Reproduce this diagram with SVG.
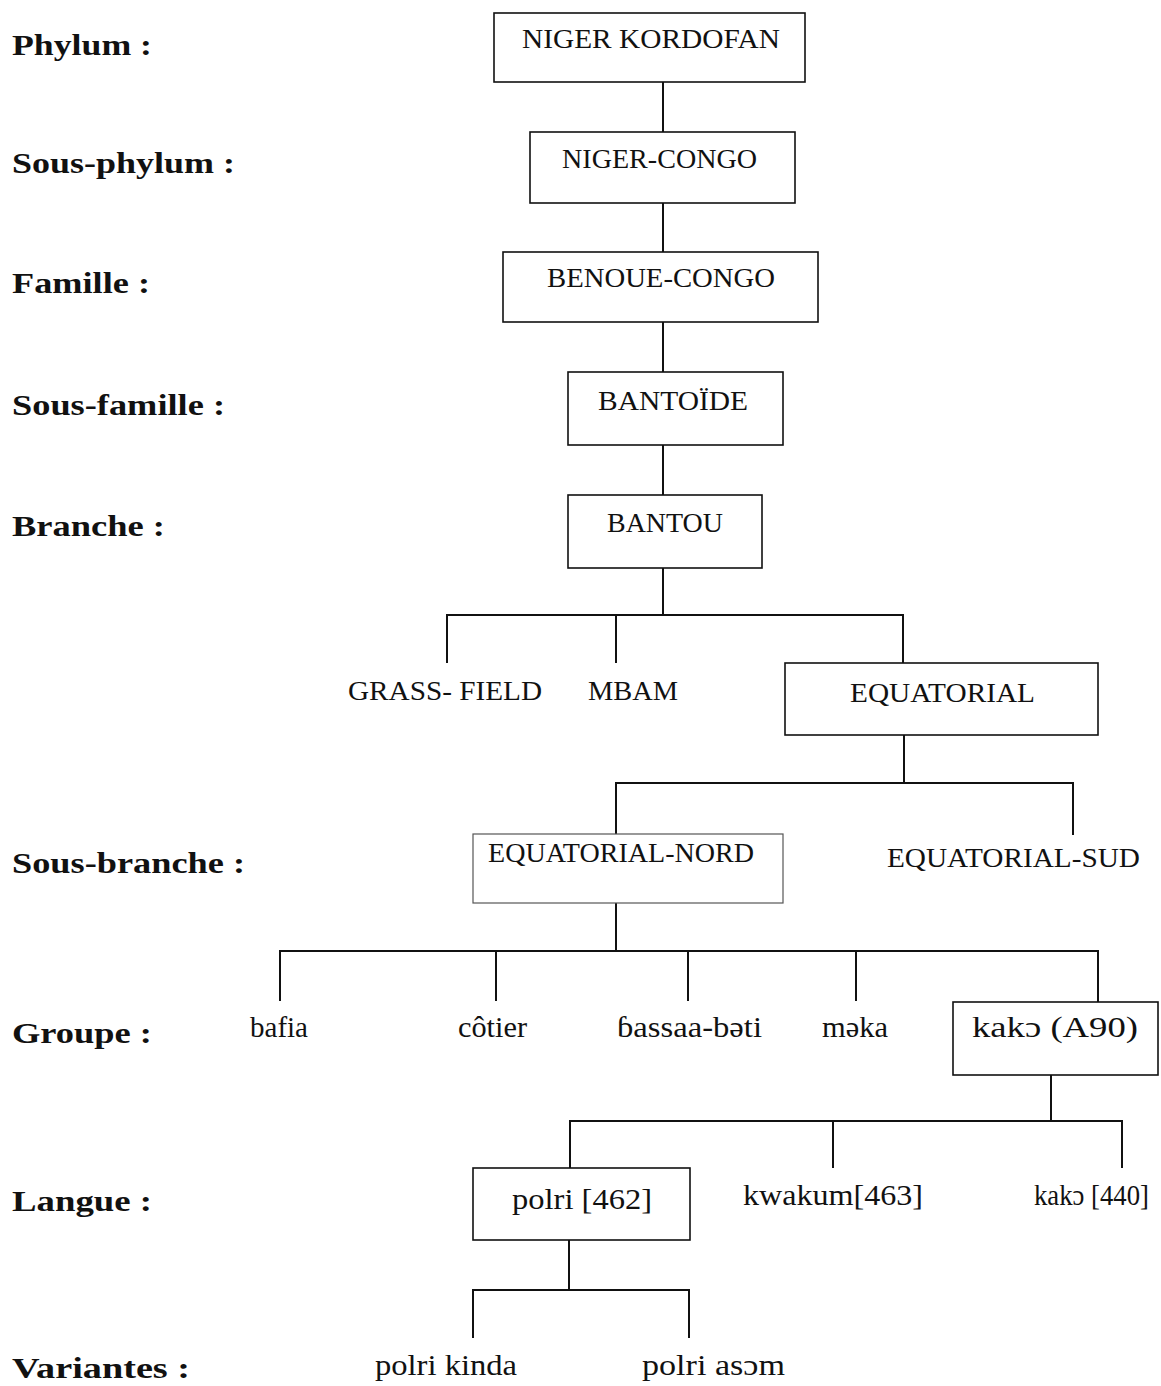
<svg xmlns="http://www.w3.org/2000/svg" width="1161" height="1386" viewBox="0 0 1161 1386">
<style>
.box{fill:#fff;stroke:#111;stroke-width:1.6}
.lbl{font-family:"Liberation Serif","Times New Roman","DejaVu Serif",serif;font-weight:bold;font-size:30px;fill:#111}
.t{font-family:"Liberation Serif","Times New Roman","DejaVu Serif",serif;font-size:27px;fill:#111}
.s{font-family:"Liberation Serif","Times New Roman","DejaVu Serif",serif;font-size:30px;fill:#111}
#connectors line{stroke:#111;stroke-width:2}
</style>
<rect width="1161" height="1386" fill="#fff"/>
<g id="levels">
<text class="lbl" x="12" y="55" textLength="140" lengthAdjust="spacingAndGlyphs">Phylum :</text>
<text class="lbl" x="12" y="173" textLength="223" lengthAdjust="spacingAndGlyphs">Sous-phylum :</text>
<text class="lbl" x="12" y="293" textLength="138" lengthAdjust="spacingAndGlyphs">Famille :</text>
<text class="lbl" x="12" y="415" textLength="213" lengthAdjust="spacingAndGlyphs">Sous-famille :</text>
<text class="lbl" x="12" y="536" textLength="153" lengthAdjust="spacingAndGlyphs">Branche :</text>
<text class="lbl" x="12" y="873" textLength="233" lengthAdjust="spacingAndGlyphs">Sous-branche :</text>
<text class="lbl" x="12" y="1043" textLength="140" lengthAdjust="spacingAndGlyphs">Groupe :</text>
<text class="lbl" x="12" y="1211" textLength="140" lengthAdjust="spacingAndGlyphs">Langue :</text>
<text class="lbl" x="12" y="1378" textLength="178" lengthAdjust="spacingAndGlyphs">Variantes :</text>
</g>
<g id="connectors">
<line x1="663" y1="82" x2="663" y2="132"/>
<line x1="663" y1="203" x2="663" y2="252"/>
<line x1="663" y1="322" x2="663" y2="372"/>
<line x1="663" y1="445" x2="663" y2="495"/>
<line x1="663" y1="568" x2="663" y2="615"/>
<line x1="446" y1="615" x2="904" y2="615"/>
<line x1="447" y1="615" x2="447" y2="663"/>
<line x1="616" y1="615" x2="616" y2="663"/>
<line x1="903" y1="615" x2="903" y2="663"/>
<line x1="904" y1="735" x2="904" y2="783"/>
<line x1="615" y1="783" x2="1074" y2="783"/>
<line x1="616" y1="783" x2="616" y2="834"/>
<line x1="1073" y1="783" x2="1073" y2="835"/>
<line x1="616" y1="903" x2="616" y2="951"/>
<line x1="279" y1="951" x2="1099" y2="951"/>
<line x1="280" y1="951" x2="280" y2="1001"/>
<line x1="496" y1="951" x2="496" y2="1001"/>
<line x1="688" y1="951" x2="688" y2="1001"/>
<line x1="856" y1="951" x2="856" y2="1001"/>
<line x1="1098" y1="951" x2="1098" y2="1002"/>
<line x1="1051" y1="1075" x2="1051" y2="1121"/>
<line x1="569" y1="1121" x2="1123" y2="1121"/>
<line x1="570" y1="1121" x2="570" y2="1168"/>
<line x1="833" y1="1121" x2="833" y2="1168"/>
<line x1="1122" y1="1121" x2="1122" y2="1168"/>
<line x1="569" y1="1240" x2="569" y2="1290"/>
<line x1="472" y1="1290" x2="690" y2="1290"/>
<line x1="473" y1="1290" x2="473" y2="1338"/>
<line x1="689" y1="1290" x2="689" y2="1338"/>
</g>
<g id="niger-kordofan"><rect class="box" x="494" y="13" width="311" height="69"/><text class="t" x="522" y="48" textLength="258" lengthAdjust="spacingAndGlyphs">NIGER KORDOFAN</text></g>
<g id="niger-congo"><rect class="box" x="530" y="132" width="265" height="71"/><text class="t" x="562" y="168" textLength="195" lengthAdjust="spacingAndGlyphs">NIGER-CONGO</text></g>
<g id="benoue-congo"><rect class="box" x="503" y="252" width="315" height="70"/><text class="t" x="547" y="287" textLength="228" lengthAdjust="spacingAndGlyphs">BENOUE-CONGO</text></g>
<g id="bantoide"><rect class="box" x="568" y="372" width="215" height="73"/><text class="t" x="598" y="410" textLength="150" lengthAdjust="spacingAndGlyphs">BANTOÏDE</text></g>
<g id="bantou"><rect class="box" x="568" y="495" width="194" height="73"/><text class="t" x="607" y="532" textLength="116" lengthAdjust="spacingAndGlyphs">BANTOU</text></g>
<g id="grass-field"><text class="t" x="348" y="700" textLength="194" lengthAdjust="spacingAndGlyphs">GRASS- FIELD</text></g>
<g id="mbam"><text class="t" x="588" y="700" textLength="90" lengthAdjust="spacingAndGlyphs">MBAM</text></g>
<g id="equatorial"><rect class="box" x="785" y="663" width="313" height="72"/><text class="t" x="850" y="702" textLength="185" lengthAdjust="spacingAndGlyphs">EQUATORIAL</text></g>
<g id="equatorial-nord"><rect class="box" x="473" y="834" width="310" height="69" style="stroke:#555;stroke-width:1.2"/><text class="t" x="488" y="862" textLength="266" lengthAdjust="spacingAndGlyphs">EQUATORIAL-NORD</text></g>
<g id="equatorial-sud"><text class="t" x="887" y="867" textLength="253" lengthAdjust="spacingAndGlyphs">EQUATORIAL-SUD</text></g>
<g id="bafia"><text class="s" x="250" y="1037" textLength="58" lengthAdjust="spacingAndGlyphs">bafia</text></g>
<g id="cotier"><text class="s" x="458" y="1037" textLength="69" lengthAdjust="spacingAndGlyphs">côtier</text></g>
<g id="bassaa-beti"><text class="s" x="617" y="1037" textLength="145" lengthAdjust="spacingAndGlyphs">ɓassaa-bəti</text></g>
<g id="meka"><text class="s" x="822" y="1037" textLength="66" lengthAdjust="spacingAndGlyphs">məka</text></g>
<g id="kako-a90"><rect class="box" x="953" y="1002" width="205" height="73"/><text class="s" x="972" y="1037" textLength="166" lengthAdjust="spacingAndGlyphs">kakɔ  (A90)</text></g>
<g id="polri"><rect class="box" x="473" y="1168" width="217" height="72"/><text class="s" x="512" y="1209" textLength="140" lengthAdjust="spacingAndGlyphs">polri [462]</text></g>
<g id="kwakum"><text class="s" x="743" y="1205" textLength="180" lengthAdjust="spacingAndGlyphs">kwakum[463]</text></g>
<g id="kako-440"><text class="s" x="1034" y="1205" textLength="115" lengthAdjust="spacingAndGlyphs">kakɔ [440]</text></g>
<g id="polri-kinda"><text class="s" x="375" y="1375" textLength="142" lengthAdjust="spacingAndGlyphs">polri kinda</text></g>
<g id="polri-asom"><text class="s" x="642" y="1375" textLength="143" lengthAdjust="spacingAndGlyphs">polri asɔm</text></g>
</svg>
